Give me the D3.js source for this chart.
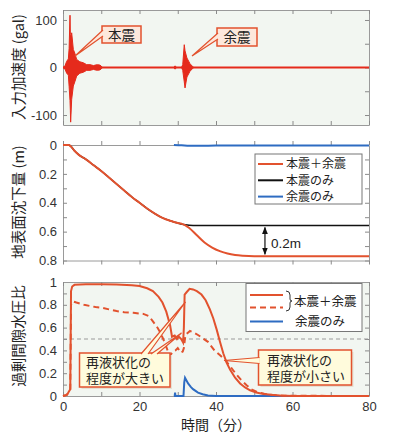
<!DOCTYPE html>
<html>
<head>
<meta charset="utf-8">
<script src="https://cdn.jsdelivr.net/npm/d3@7"></script>
<style>
  body { margin: 0; background: #fff; }
  svg text { font-family: "Liberation Sans", Arial, sans-serif; }
  .jp { font-family: "Noto Sans CJK JP", "Noto Sans", sans-serif; }
</style>
</head>
<body>
<svg width="394" height="443"></svg>
<script>
// ---- data ----
// panel 1: input acceleration, drawn as an envelope (gal)
var accTime = [0, 0.5, 0.96, 1.4, 1.6, 1.83, 1.92, 2.0, 2.27, 2.7, 3.1, 3.57, 4.4, 5.3, 6.2, 7.06, 8.0, 8.4, 9.0, 9.65, 10.0, 10.3,
               29.0, 29.2, 29.4, 29.6, 31.0, 31.3, 31.7, 31.9, 32.4, 33.2, 33.9, 34.2];
var accMax  = [0, 3, 13, 18, 40, 110, 70, 60, 73, 38, 30, 17, 12, 10, 6, 6, 4, 5, 6, 5, 3, 0,
               0, 3, 3, 0, 0, 6, 48, 35, 20, 8, 2, 0];
var accMin  = [0, -3, -12, -16, -40, -70, -90, -115, -67, -39, -30, -18, -12, -10, -6, -6, -4, -5, -6, -5, -3, 0,
               0, -3, -3, 0, 0, -6, -30, -43, -20, -8, -2, 0];

// panel 2: surface settlement (m)
var setTime  = [0, 1.5, 2, 3, 4, 6, 8, 10, 12, 14, 16, 18, 20, 22, 24, 26, 28, 29, 30, 31, 32, 33, 35, 37, 39, 41, 43, 45, 47, 50, 80];
var setBoth  = [0, 0, 0.008, 0.04, 0.065, 0.10, 0.14, 0.18, 0.225, 0.27, 0.315, 0.36, 0.40, 0.44, 0.475, 0.505, 0.525, 0.533, 0.54,
                0.546, 0.556, 0.575, 0.625, 0.675, 0.71, 0.735, 0.752, 0.762, 0.767, 0.77, 0.77];
var mainTime = [0, 1.5, 2, 3, 4, 6, 8, 10, 12, 14, 16, 18, 20, 22, 24, 26, 28, 29, 30, 31, 32, 34, 80];
var setMain  = [0, 0, 0.008, 0.04, 0.065, 0.10, 0.14, 0.18, 0.225, 0.27, 0.315, 0.36, 0.40, 0.44, 0.475, 0.505, 0.525, 0.533, 0.54,
                0.548, 0.553, 0.557, 0.557];
var aftTime  = [29, 31, 33, 36, 40, 80];
var setAft   = [0, 0.002, 0.005, 0.005, 0.004, 0.004];

// panel 3: excess pore pressure ratio
var eppTime  = [0, 1.0, 1.4, 1.9, 2.1, 2.4, 3.0, 6, 10, 14, 18, 20, 22, 23.5, 25, 26, 27, 28, 28.5, 29.2, 29.8, 30.3, 30.9, 31.4,
                31.6, 31.8, 32.3, 33.1, 34, 35, 36.2, 37.3, 38.4, 39.3, 40.2, 41, 41.9, 42.8, 43.7, 45, 46.3, 47.6, 48.9,
                50.5, 52.4, 54.5, 56.7, 60, 80];
var eppSolid = [0, 0.01, 0.03, 0.06, 0.92, 0.96, 0.975, 0.98, 0.98, 0.978, 0.972, 0.965, 0.945, 0.92, 0.87, 0.82, 0.74, 0.62,
                0.52, 0.53, 0.5, 0.52, 0.5, 0.47, 0.6, 0.89, 0.91, 0.94, 0.935, 0.92, 0.89, 0.84, 0.76, 0.68, 0.58, 0.48,
                0.375, 0.29, 0.23, 0.16, 0.11, 0.075, 0.05, 0.03, 0.018, 0.01, 0.005, 0, 0];
var dashTime = [0, 1.0, 1.4, 1.9, 2.1, 2.6, 3.5, 4.5, 5.5, 7, 8.5, 10, 12, 14, 16, 18.4, 21, 22.5, 23.6, 24.5, 25.4, 26.2, 27,
                27.9, 28.7, 29.4, 30, 30.8, 31.3, 31.6, 32, 33.2, 34.3, 35.3, 36.6, 37.9, 39.6, 41, 42.4, 44, 45.3, 46.6, 48,
                49.2, 50.8, 52.6, 55, 58, 80];
var eppDash  = [0, 0.01, 0.03, 0.06, 0.8, 0.83, 0.82, 0.81, 0.80, 0.79, 0.78, 0.775, 0.76, 0.745, 0.735, 0.73, 0.72, 0.70,
                0.65, 0.61, 0.56, 0.50, 0.43, 0.35, 0.39, 0.40, 0.42, 0.38, 0.39, 0.42, 0.535, 0.57, 0.555, 0.535, 0.505,
                0.475, 0.40, 0.36, 0.316, 0.247, 0.19, 0.14, 0.095, 0.06, 0.035, 0.02, 0.008, 0.002, 0];
var blueTime = [29, 29.2, 29.3, 29.4, 31.5, 31.7, 31.9, 32.7, 33.4, 34, 35.3, 36.5, 37.9, 40, 80];
var eppAft   = [0, 0, 0.03, 0, 0, 0.12, 0.16, 0.11, 0.08, 0.06, 0.03, 0.015, 0.005, 0, 0];

var xTicks = d3.range(0, 81, 10);
var xLabels = [0, 20, 40, 60, 80];

// ---- layout ----
var svg = d3.select("svg");
var red = "#e2522e", accRed = "#e52a1c", blue = "#2e6cc2";
var x = d3.scaleLinear().domain([0, 80]).range([63, 369]);

function zip(t, v) { return t.map(function(d, i) { return [d, v[i]]; }); }

function panel(y, yTicks, yFmt, xFmt) {
  var g = svg.append("g");
  g.append("rect").attr("x", x(0)).attr("y", y.range()[1])
    .attr("width", x(80) - x(0)).attr("height", y.range()[0] - y.range()[1])
    .attr("fill", "#f2f6f1");
  var axes = [
    [d3.axisLeft(y).tickValues(yTicks).tickFormat(yFmt), "translate(" + x(0) + ",0)"],
    [d3.axisRight(y).tickValues(yTicks).tickFormat(""), "translate(" + x(80) + ",0)"],
    [d3.axisTop(x).tickValues(xTicks).tickFormat(""), "translate(0," + y.range()[1] + ")"],
    [d3.axisBottom(x).tickValues(xTicks).tickFormat(xFmt || ""), "translate(0," + y.range()[0] + ")"]
  ];
  axes.forEach(function(a) {
    var ax = g.append("g").attr("transform", a[1])
      .call(a[0].tickSizeInner(-4).tickSizeOuter(0).tickPadding(6));
    ax.select(".domain").attr("stroke", "#9a9a9a");
    ax.selectAll(".tick line").attr("stroke", "#8a8a8a");
    ax.selectAll("text").attr("font-size", 13).attr("fill", "#333");
  });
  return g;
}

function yTitle(text, cy) {
  svg.append("text").attr("class", "jp")
    .attr("transform", "translate(24," + cy + ") rotate(-90)")
    .attr("text-anchor", "middle").attr("font-size", 14.5).attr("fill", "#222")
    .text(text);
}

function callout(g, box, wedges, fill, shadow) {
  if (shadow) {
    g.append("rect").attr("x", box.x + 2).attr("y", box.y + 2).attr("width", box.w).attr("height", box.h)
      .attr("fill", "#e6e0d2");
  }
  g.append("rect").attr("x", box.x).attr("y", box.y).attr("width", box.w).attr("height", box.h)
    .attr("fill", fill).attr("stroke", red).attr("stroke-width", 1.5);
  // wedge pointers, their bases open into the box
  wedges.forEach(function(w) {
    g.append("path").attr("d", "M" + w[0] + "L" + w[2] + "L" + w[1] + "Z").attr("fill", fill);
    g.append("path").attr("d", "M" + w[0] + "L" + w[2] + "L" + w[1])
      .attr("fill", "none").attr("stroke", red).attr("stroke-width", 1.2);
  });
}

// ---- panel 1: acceleration ----
var y1 = d3.scaleLinear().domain([-121, 121]).range([125, 10]);
var g1 = panel(y1, [-100, -50, 0, 50, 100], function(d) { return d % 100 === 0 ? d : ""; });
g1.append("line").attr("x1", x(0)).attr("x2", x(80)).attr("y1", y1(0)).attr("y2", y1(0))
  .attr("stroke", accRed).attr("stroke-width", 2);
g1.append("path")
  .datum(accTime.map(function(t, i) { return [t, accMin[i], accMax[i]]; }))
  .attr("d", d3.area().x(function(d) { return x(d[0]); })
    .y0(function(d) { return y1(d[1]); }).y1(function(d) { return y1(d[2]); }))
  .attr("fill", accRed).attr("stroke", accRed).attr("stroke-width", 1);

var c1 = svg.append("g");
callout(c1, {x: 102, y: 26, w: 39, h: 17}, [[[103, 30], [103, 36], [75, 56]]], "#fde8dc", false);
callout(c1, {x: 217, y: 28, w: 40, h: 18}, [[[218, 33], [218, 39], [192, 56]]], "#fde8dc", false);
c1.append("text").attr("class", "jp").attr("x", 121.5).attr("y", 39.5).attr("text-anchor", "middle")
  .attr("font-size", 13.5).attr("fill", "#222").text("本震");
c1.append("text").attr("class", "jp").attr("x", 237).attr("y", 42).attr("text-anchor", "middle")
  .attr("font-size", 13.5).attr("fill", "#222").text("余震");
yTitle("入力加速度 (gal)", 67);

// ---- panel 2: settlement ----
var y2 = d3.scaleLinear().domain([0, 0.8]).range([145, 260.5]);
var g2 = panel(y2, d3.range(0, 0.81, 0.1).map(function(d) { return +d.toFixed(1); }),
  function(d) { return Math.round(d * 10) % 2 === 0 ? (d === 0 ? "0" : d.toFixed(1)) : ""; });
var line2 = d3.line().x(function(d) { return x(d[0]); }).y(function(d) { return y2(d[1]); }).curve(d3.curveMonotoneX);
g2.append("path").datum(zip(aftTime, setAft)).attr("d", line2)
  .attr("fill", "none").attr("stroke", blue).attr("stroke-width", 2);
g2.append("path").datum(zip(mainTime, setMain)).attr("d", line2)
  .attr("fill", "none").attr("stroke", "#111").attr("stroke-width", 1.5);
g2.append("path").datum(zip(setTime, setBoth)).attr("d", line2)
  .attr("fill", "none").attr("stroke", red).attr("stroke-width", 2);

// 0.2 m arrow
var arrowX = x(52.8);
svg.append("defs").append("marker").attr("id", "ah").attr("viewBox", "0 0 10 10")
  .attr("refX", 9).attr("refY", 5).attr("markerWidth", 6).attr("markerHeight", 6)
  .attr("orient", "auto-start-reverse")
  .append("path").attr("d", "M0,1L10,5L0,9Z").attr("fill", "#111");
g2.append("line").attr("x1", arrowX).attr("x2", arrowX)
  .attr("y1", y2(setMain[setMain.length - 1]) + 2).attr("y2", y2(setBoth[setBoth.length - 1]) - 2)
  .attr("stroke", "#111").attr("stroke-width", 1.2)
  .attr("marker-start", "url(#ah)").attr("marker-end", "url(#ah)");
g2.append("text").attr("x", arrowX + 6).attr("y", 248).attr("font-size", 13.5).attr("fill", "#222").text("0.2m");

// legend 2
var lg2 = g2.append("g");
lg2.append("rect").attr("x", 255).attr("y", 154).attr("width", 107).attr("height", 50)
  .attr("fill", "#fff").attr("stroke", "#777");
[["本震＋余震", red], ["本震のみ", "#111"], ["余震のみ", blue]].forEach(function(e, i) {
  var yy = 164 + i * 16.3;
  lg2.append("line").attr("x1", 258).attr("x2", 283).attr("y1", yy).attr("y2", yy)
    .attr("stroke", e[1]).attr("stroke-width", 2);
  lg2.append("text").attr("class", "jp").attr("x", 286).attr("y", yy + 4.3)
    .attr("font-size", 12).attr("fill", "#222").text(e[0]);
});
yTitle("地表面沈下量 (m)", 202);

// ---- panel 3: pore pressure ratio ----
var y3 = d3.scaleLinear().domain([0, 1]).range([396, 282]);
var g3 = panel(y3, d3.range(0, 1.01, 0.1).map(function(d) { return +d.toFixed(1); }),
  function(d) { return Math.round(d * 10) % 2 === 0 ? (d === 0 ? "0" : d === 1 ? "1" : d.toFixed(1)) : ""; },
  function(d) { return xLabels.indexOf(d) >= 0 ? d : ""; });
g3.append("line").attr("x1", x(0)).attr("x2", x(80)).attr("y1", y3(0.5)).attr("y2", y3(0.5))
  .attr("stroke", "#9a9a9a").attr("stroke-dasharray", "4,3");
var line3 = d3.line().x(function(d) { return x(d[0]); }).y(function(d) { return y3(d[1]); });
g3.append("path").datum(zip(blueTime, eppAft)).attr("d", line3)
  .attr("fill", "none").attr("stroke", blue).attr("stroke-width", 2);
g3.append("path").datum(zip(dashTime, eppDash)).attr("d", line3)
  .attr("fill", "none").attr("stroke", red).attr("stroke-width", 2).attr("stroke-dasharray", "6,4");
g3.append("path").datum(zip(eppTime, eppSolid)).attr("d", line3)
  .attr("fill", "none").attr("stroke", red).attr("stroke-width", 2);

// legend 3
var lg3 = g3.append("g");
lg3.append("rect").attr("x", 246).attr("y", 283.5).attr("width", 116).attr("height", 48)
  .attr("fill", "#fff").attr("stroke", "#777");
lg3.append("line").attr("x1", 250).attr("x2", 283).attr("y1", 295).attr("y2", 295)
  .attr("stroke", red).attr("stroke-width", 2);
lg3.append("line").attr("x1", 250).attr("x2", 283).attr("y1", 307.5).attr("y2", 307.5)
  .attr("stroke", red).attr("stroke-width", 2).attr("stroke-dasharray", "6,4");
lg3.append("path").attr("d", "M286,291 Q290,291 290,295 L290,299 Q290,301 292,301 Q290,301 290,303 L290,307 Q290,311 286,311")
  .attr("fill", "none").attr("stroke", "#333").attr("stroke-width", 1);
lg3.append("text").attr("class", "jp").attr("x", 294).attr("y", 305.5)
  .attr("font-size", 12.5).attr("fill", "#222").text("本震＋余震");
lg3.append("line").attr("x1", 250).attr("x2", 283).attr("y1", 321.5).attr("y2", 321.5)
  .attr("stroke", blue).attr("stroke-width", 2);
lg3.append("text").attr("class", "jp").attr("x", 295).attr("y", 326)
  .attr("font-size", 12.5).attr("fill", "#222").text("余震のみ");

// annotations
var c3 = svg.append("g");
callout(c3, {x: 79.5, y: 353, w: 90.5, h: 34},
  [[[141, 354], [148, 354], [185.5, 302]], [[151, 354], [157, 354], [181.5, 333]]], "#fffbdc", true);
callout(c3, {x: 258.5, y: 350, w: 93, h: 35}, [[[259.5, 357.5], [259.5, 363.5], [224, 360.5]]], "#fffbdc", true);
// each note is one text element with two lines
[[["再液状化の", "程度が大きい"], 86, 367], [["再液状化の", "程度が小さい"], 267, 365]].forEach(function(t) {
  var tx = c3.append("text").attr("class", "jp").attr("font-size", 13).attr("fill", "#222");
  t[0].forEach(function(s, i) {
    tx.append("tspan").attr("x", t[1]).attr("y", t[2] + i * 15.5).text(s);
  });
});
yTitle("過剰間隙水圧比", 336);

svg.append("text").attr("class", "jp").attr("x", 216).attr("y", 430).attr("text-anchor", "middle")
  .attr("font-size", 14).attr("fill", "#222").text("時間（分）");
</script>
</body>
</html>
